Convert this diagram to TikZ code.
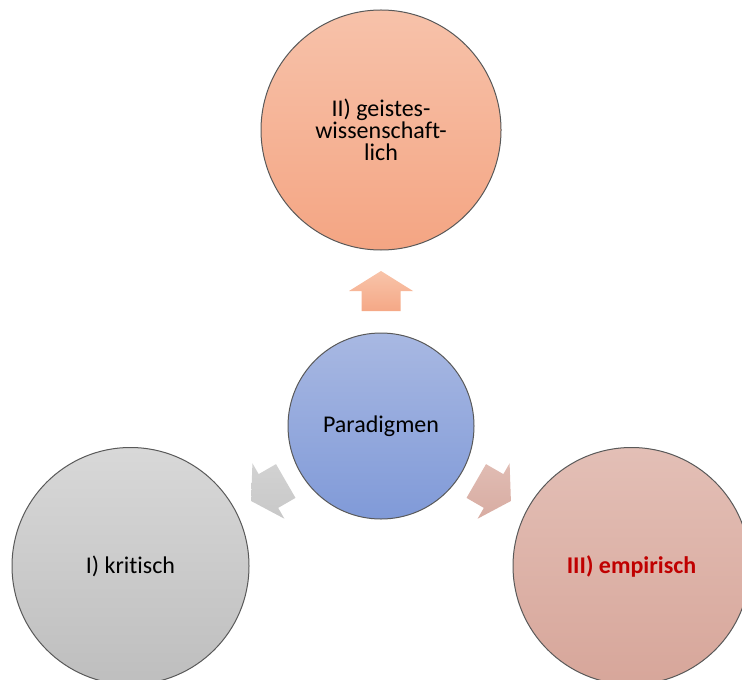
\documentclass[tikz,border=0pt]{standalone}
\usepackage{fontspec}
\setmainfont{Carlito}[Ligatures={NoCommon}]
\definecolor{parTop}{RGB}{168,184,226}
\definecolor{parBot}{RGB}{128,154,216}
\definecolor{geistTop}{RGB}{247,194,170}
\definecolor{geistBot}{RGB}{244,165,131}
\definecolor{kritTop}{RGB}{216,216,216}
\definecolor{kritBot}{RGB}{190,190,190}
\definecolor{empTop}{RGB}{227,191,182}
\definecolor{empBot}{RGB}{215,166,154}
\definecolor{upTop}{RGB}{248,196,170}
\definecolor{upBot}{RGB}{245,168,134}
\definecolor{leftTop}{RGB}{210,210,210}
\definecolor{leftBot}{RGB}{200,200,200}
\definecolor{rightTop}{RGB}{224,188,179}
\definecolor{rightBot}{RGB}{216,172,162}
\definecolor{empText}{RGB}{192,0,0}
\tikzset{
    bubble/.style={circle,draw=black!65,line width=.5pt,inner sep=0pt,
        align=center,font=\fontsize{12}{11}\selectfont},
}
\begin{document}
\begin{tikzpicture}[x=.5pt,y=-.5pt]
    \useasboundingbox (0,0) rectangle (742,679);
    \clip (0,0) rectangle (742,679);
    % circles
    \node[bubble,minimum size=93pt,top color=parTop,bottom color=parBot] (par) at (381,426) {Paradigmen};
    \node[bubble,minimum size=120pt,top color=geistTop,bottom color=geistBot,text depth=0pt] (geist) at (381,130) {II) geistes-\\wissenschaft-\\lich};
    \node[bubble,minimum size=118.5pt,top color=kritTop,bottom color=kritBot] (krit) at (130.5,566) {I) kritisch};
    \node[bubble,minimum size=118.5pt,top color=empTop,bottom color=empBot,text=empText] (emp) at (631.5,566) {\bfseries III) empirisch};
    % block arrows
    \foreach \ang/\dist/\ctop/\cbot in {90/135/upTop/upBot,210/130/leftTop/leftBot,330/130/rightTop/rightBot}
        \shade[top color=\ctop,bottom color=\cbot,shift={(par.center)},rotate=\ang,shift={(\dist,0)}]
            (-20,-19.5) -- (0,-19.5) -- (0,-32) -- (20,0) -- (0,32) -- (0,19.5) -- (-20,19.5) -- cycle;
\end{tikzpicture}
\end{document}
